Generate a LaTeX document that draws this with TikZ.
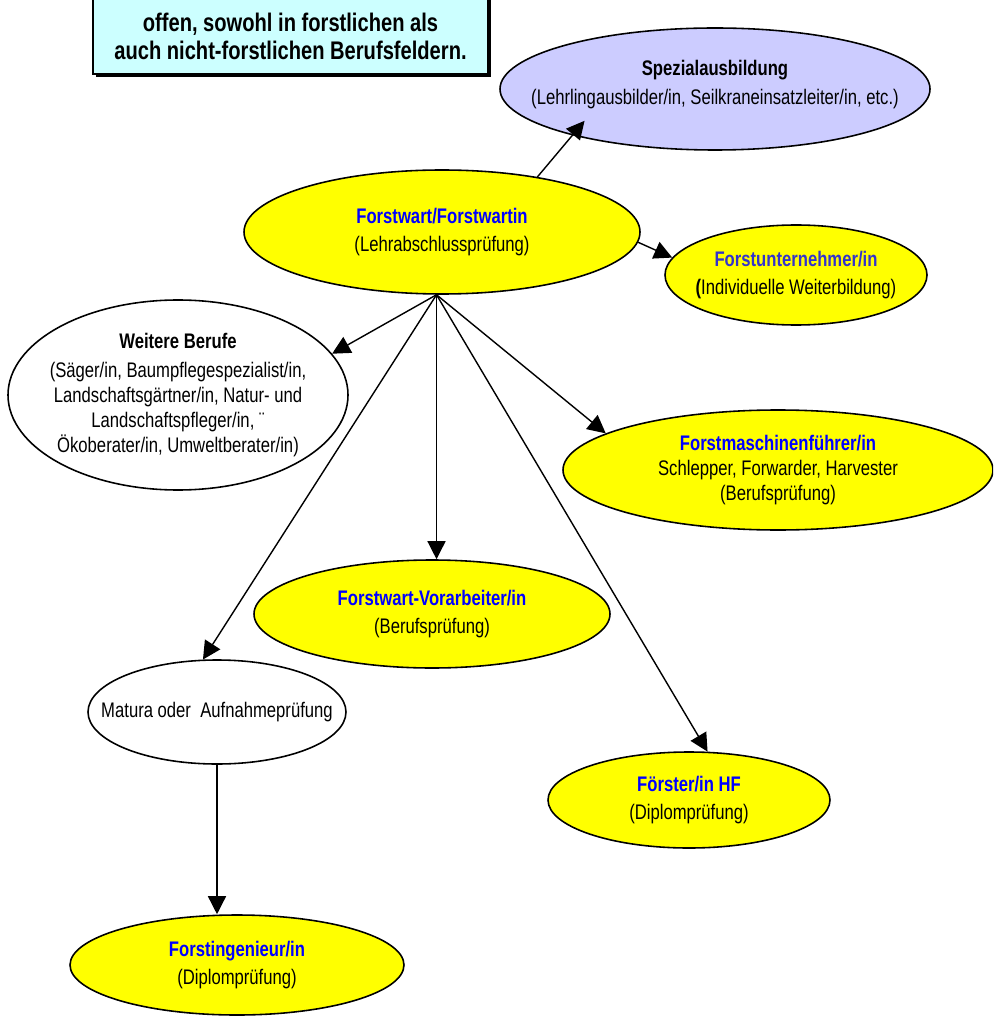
\documentclass[tikz,border=0pt]{standalone}
\usepackage{fontspec}
\setmainfont[FakeStretch=0.79]{Liberation Sans}
\usepackage{xcolor}
\usepackage{tikz}
\usetikzlibrary{arrows.meta,shapes.geometric,shadows}
\definecolor{tyellow}{HTML}{FFFF00}
\definecolor{tlila}{HTML}{CCCCFF}
\definecolor{tcyan}{HTML}{CCFFFF}
\definecolor{tblue}{HTML}{0000FF}
\definecolor{tbluesoft}{HTML}{3333CC}

\begin{document}
\begin{tikzpicture}[font=\fontsize{12}{14.2}\selectfont,
  ell/.style={draw, ellipse, line width=0.9pt, inner xsep=-3cm, inner ysep=-2cm, align=center},
  job/.style={ell, fill=tyellow},
  other/.style={ell, fill=white},
  spec/.style={ell, fill=tlila},
  infobox/.style={draw, line width=0.8pt, fill=tcyan, align=center, inner sep=0pt,
    font=\fontsize{14.5}{15.9}\selectfont\bfseries,
    drop shadow={shadow xshift=1.6pt, shadow yshift=-1.6pt, opacity=1, fill=black}},
  arr/.style={-{Triangle[length=3.6mm, width=3.6mm]}, line width=0.8pt}]

% --- page frame, the top box runs off the page ---
\clip (0,0) rectangle (19.86,-20.42);

% --- note box ---
\node[infobox, minimum width=7.9cm, minimum height=2.08cm] (info) at (5.81,-0.44)
  {\strut\\offen, sowohl in forstlichen als\\auch nicht-forstlichen Berufsfeldern.};

% --- ellipses ---
\node[spec, minimum width=8.6cm, minimum height=2.44cm] (sp) at (14.30,-1.78)
  {\textbf{Spezialausbildung}\\[2pt](Lehrlingausbilder/in, Seilkraneinsatzleiter/in, etc.)\rule[-7.5pt]{0pt}{7.5pt}};
\node[job, minimum width=7.92cm, minimum height=2.48cm] (fw) at (8.84,-4.64)
  {\textcolor{tblue}{\textbf{Forstwart/Forstwartin}}\\[2pt](Lehrabschlussprüfung)};
\node[job, minimum width=5.24cm, minimum height=2.0cm] (fu) at (15.92,-5.50)
  {\textcolor{tbluesoft}{\textbf{Forstunternehmer/in}}\\[2pt]\textbf{(}Individuelle Weiterbildung)};
\node[other, minimum width=6.8cm, minimum height=3.8cm] (wb) at (3.56,-7.90)
  {\textbf{Weitere Berufe}\\[2pt](Säger/in, Baumpflegespezialist/in,\\Landschaftsgärtner/in, Natur- und\\
   Landschaftspfleger/in, ¨\\Ökoberater/in, Umweltberater/in)};
\node[job, minimum width=8.6cm, minimum height=2.4cm] (fm) at (15.56,-9.40)
  {\textcolor{tblue}{\textbf{Forstmaschinenführer/in}}\\Schlepper, Forwarder, Harvester\\(Berufsprüfung)};
\node[job, minimum width=7.12cm, minimum height=2.16cm] (vo) at (8.64,-12.28)
  {\textcolor{tblue}{\textbf{Forstwart-Vorarbeiter/in}}\\[2pt](Berufsprüfung)};
\node[other, minimum width=5.16cm, minimum height=2.08cm] (mat) at (4.34,-14.24)
  {Matura oder~ Aufnahmeprüfung};
\node[job, minimum width=5.64cm, minimum height=1.92cm] (fo) at (13.78,-16.00)
  {\textcolor{tblue}{\textbf{Förster/in HF}}\\[2pt](Diplomprüfung)};
\node[job, minimum width=6.68cm, minimum height=2.0cm] (fi) at (4.74,-19.30)
  {\textcolor{tblue}{\textbf{Forstingenieur/in}}\\[2pt](Diplomprüfung)};

% --- connectors ---
\draw[arr, shorten >=-0.38cm] (fw.30) -- (sp.198);
\draw[arr] (fw.357) -- (fu.172);
\draw[arr] (fw.265) -- (wb.15.5);
\draw[arr] (fw.265) -- (mat.105.6);
\draw[arr] (fw.265) -- (fw.265 |- vo.north);
\draw[arr] (fw.265) -- (fo.69.4);
\draw[arr] (fw.265) -- (fm.168.8);
\draw[arr] (mat.south) -- (mat.south |- fi.north);
\end{tikzpicture}
\end{document}
